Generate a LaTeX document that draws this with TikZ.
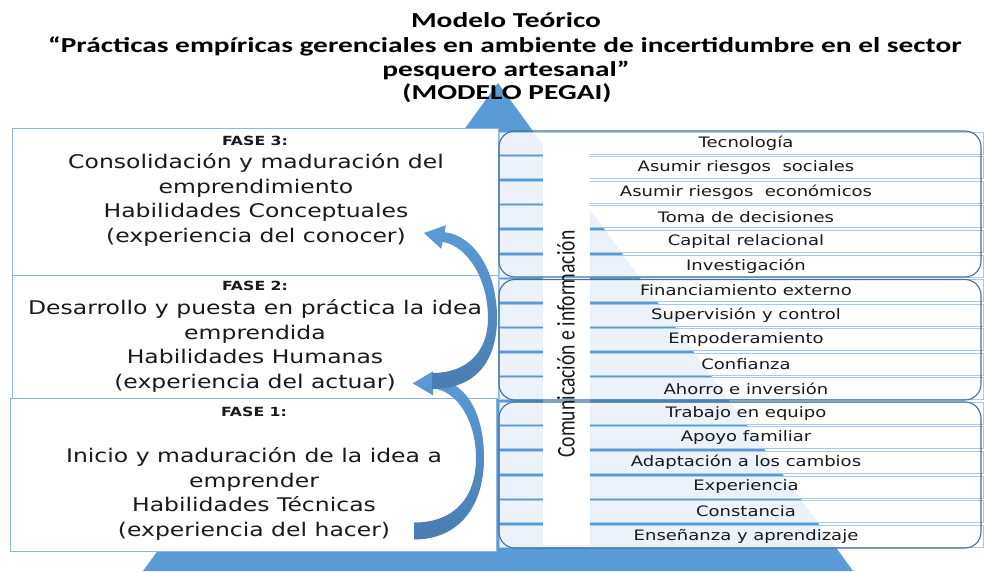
\documentclass[tikz,border=0pt]{standalone}
\usepackage{fontspec}
\newfontfamily\vfont[FakeStretch=1.25]{DejaVu Sans}
\newfontfamily\cfont[FakeStretch=1.38]{Carlito}
\newfontfamily\cplain{Carlito}
\definecolor{tri}{HTML}{5B9BD5}
\definecolor{boxline}{HTML}{8EB4E3}
\definecolor{rowline}{HTML}{A9C8EA}
\definecolor{grp}{HTML}{41719C}
\definecolor{arrdark}{HTML}{4A7DB0}
\definecolor{txt}{HTML}{1A1A1A}
\begin{document}
\begin{tikzpicture}[x=1pt,y=-1pt,
  fasebox/.style={draw=boxline, line width=1pt, fill=white},
  rowbox/.style={draw=rowline, line width=0.6pt, fill=white, fill opacity=0.88},
  grpbox/.style={draw=grp, line width=1.1pt, rounded corners=16pt},
  rowtext/.style={font=\vfont\fontsize{14.4}{16}\selectfont, text=txt, inner sep=0pt},
  phase/.style={font=\vfont\bfseries\fontsize{12.6}{14}\selectfont, text=txt, inner sep=0pt},
  body/.style={font=\vfont\fontsize{18.8}{24.5}\selectfont, align=center, text=txt, inner sep=0pt},
  title/.style={font=\cfont\bfseries\fontsize{21.3}{22}\selectfont, text=black, inner sep=0pt},
  arrowbody/.style={top color=tri, bottom color=arrdark, draw=none}]
\path[use as bounding box] (0,0) rectangle (984,571);
% pyramid
\fill[tri] (498,83) -- (143,571) -- (853,571) -- cycle;
% title
\node[title] (t1) at (506,20) {Modelo Teórico};
\node[title] (t2) at (505,46) {“Prácticas empíricas gerenciales en ambiente de incertidumbre en el sector};
\node[title] (t3) at (506,70) {pesquero artesanal”};
\node[title] (t4) at (507,93) {(MODELO PEGAI)};
% phase boxes
\path[fasebox] (12,128) rectangle (498,275);
\path[fasebox] (12,275) rectangle (498,398);
\path[fasebox] (10,398) rectangle (496,551);
\node[phase] (f3) at (255,141) {FASE 3:};
\node[body] (b3) at (256,200) {Consolidación y maduración del\\emprendimiento\\Habilidades Conceptuales\\(experiencia del conocer)};
\node[phase] (f2) at (255,286) {FASE 2:};
\node[body] (b2) at (255,346) {Desarrollo y puesta en práctica la idea\\emprendida\\Habilidades Humanas\\(experiencia del actuar)};
\node[phase] (f1) at (254,412) {FASE 1:};
\node[body] (b1) at (254,494) {Inicio y maduración de la idea a\\emprender\\Habilidades Técnicas\\(experiencia del hacer)};
% rows
\foreach \i in {0,...,16}
  \path[rowbox] (499,{143+24.56*\i-11}) rectangle (983,{143+24.56*\i+11});
\fill[white] (543,140) rectangle (590,545);
\path[grpbox] (499,131) rectangle (981,277);
\path[grpbox] (499,279.5) rectangle (981,400);
\path[grpbox] (499,402) rectangle (981,548);
\foreach \t [count=\i from 0] in {Tecnología, Asumir riesgos\ \ sociales, Asumir riesgos\ \ económicos, Toma de decisiones, Capital relacional, Investigación, Financiamiento externo, Supervisión y control, Empoderamiento, Confianza, Ahorro e inversión, Trabajo en equipo, Apoyo familiar, Adaptación a los cambios, Experiencia, Constancia, Enseñanza y aprendizaje}
  \node[rowtext] (row\i) at (746,{143+24.56*\i}) {\t};
\node[rotate=90, inner sep=0pt, text=txt] (com) at (566,344) {\scalebox{1}[1.3]{\cplain\fontsize{19.6}{19.6}\selectfont Comunicación e información}};
% curved arrows
\path[arrowbody] (414,539.5) .. controls (460,539.5) and (484,505) .. (484,458)
   .. controls (484,412) and (465,380) .. (433,378.3)
   -- (433,371.3) -- (412.7,383.3) -- (433,395.3) -- (433,388.3)
   .. controls (458,391) and (476,422) .. (476,458)
   .. controls (476,497) and (455,522.5) .. (414,522.5) -- cycle;
\path[arrowbody] (432,389) .. controls (475,389) and (497,362) .. (497,318)
   .. controls (497,272) and (475,236) .. (444.6,232.1)
   -- (446,225.2) -- (424,233) -- (441.2,248.8) -- (442.6,241.9)
   .. controls (468,246) and (488,280) .. (488,318)
   .. controls (488,352) and (467,373) .. (432,373) -- cycle;
\end{tikzpicture}
\end{document}
